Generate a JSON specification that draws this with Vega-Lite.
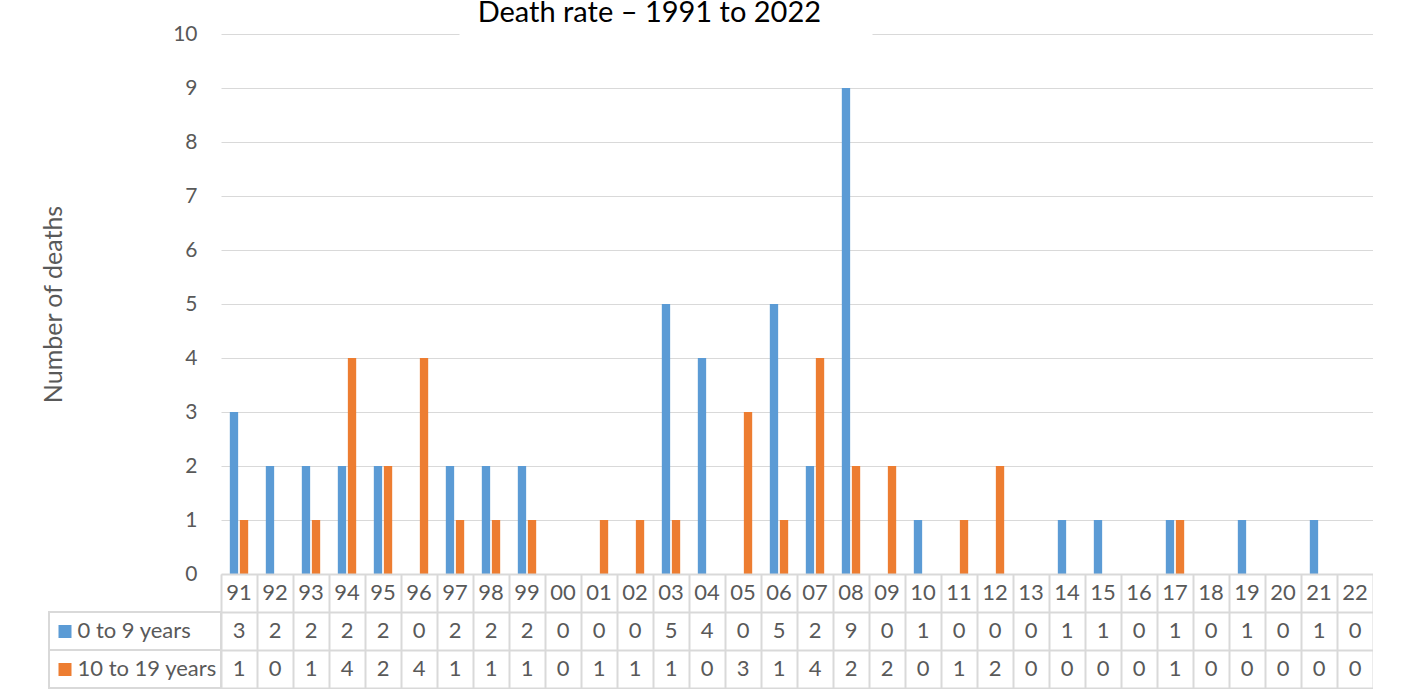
{
  "$schema": "https://vega.github.io/schema/vega-lite/v6.json",
  "padding": {"left": 41, "top": -1, "right": 0, "bottom": 0},
  "background": "white",
  "title": {"text": "Death rate – 1991 to 2022", "fontSize": 29, "fontWeight": "normal", "color": "#000000", "anchor": "start", "dx": 436, "offset": -5},
  "datasets": {
    "deaths": [
      {"year": "91", "series": "0 to 9 years", "deaths": 3},
      {"year": "92", "series": "0 to 9 years", "deaths": 2},
      {"year": "93", "series": "0 to 9 years", "deaths": 2},
      {"year": "94", "series": "0 to 9 years", "deaths": 2},
      {"year": "95", "series": "0 to 9 years", "deaths": 2},
      {"year": "96", "series": "0 to 9 years", "deaths": 0},
      {"year": "97", "series": "0 to 9 years", "deaths": 2},
      {"year": "98", "series": "0 to 9 years", "deaths": 2},
      {"year": "99", "series": "0 to 9 years", "deaths": 2},
      {"year": "00", "series": "0 to 9 years", "deaths": 0},
      {"year": "01", "series": "0 to 9 years", "deaths": 0},
      {"year": "02", "series": "0 to 9 years", "deaths": 0},
      {"year": "03", "series": "0 to 9 years", "deaths": 5},
      {"year": "04", "series": "0 to 9 years", "deaths": 4},
      {"year": "05", "series": "0 to 9 years", "deaths": 0},
      {"year": "06", "series": "0 to 9 years", "deaths": 5},
      {"year": "07", "series": "0 to 9 years", "deaths": 2},
      {"year": "08", "series": "0 to 9 years", "deaths": 9},
      {"year": "09", "series": "0 to 9 years", "deaths": 0},
      {"year": "10", "series": "0 to 9 years", "deaths": 1},
      {"year": "11", "series": "0 to 9 years", "deaths": 0},
      {"year": "12", "series": "0 to 9 years", "deaths": 0},
      {"year": "13", "series": "0 to 9 years", "deaths": 0},
      {"year": "14", "series": "0 to 9 years", "deaths": 1},
      {"year": "15", "series": "0 to 9 years", "deaths": 1},
      {"year": "16", "series": "0 to 9 years", "deaths": 0},
      {"year": "17", "series": "0 to 9 years", "deaths": 1},
      {"year": "18", "series": "0 to 9 years", "deaths": 0},
      {"year": "19", "series": "0 to 9 years", "deaths": 1},
      {"year": "20", "series": "0 to 9 years", "deaths": 0},
      {"year": "21", "series": "0 to 9 years", "deaths": 1},
      {"year": "22", "series": "0 to 9 years", "deaths": 0},
      {"year": "91", "series": "10 to 19 years", "deaths": 1},
      {"year": "92", "series": "10 to 19 years", "deaths": 0},
      {"year": "93", "series": "10 to 19 years", "deaths": 1},
      {"year": "94", "series": "10 to 19 years", "deaths": 4},
      {"year": "95", "series": "10 to 19 years", "deaths": 2},
      {"year": "96", "series": "10 to 19 years", "deaths": 4},
      {"year": "97", "series": "10 to 19 years", "deaths": 1},
      {"year": "98", "series": "10 to 19 years", "deaths": 1},
      {"year": "99", "series": "10 to 19 years", "deaths": 1},
      {"year": "00", "series": "10 to 19 years", "deaths": 0},
      {"year": "01", "series": "10 to 19 years", "deaths": 1},
      {"year": "02", "series": "10 to 19 years", "deaths": 1},
      {"year": "03", "series": "10 to 19 years", "deaths": 1},
      {"year": "04", "series": "10 to 19 years", "deaths": 0},
      {"year": "05", "series": "10 to 19 years", "deaths": 3},
      {"year": "06", "series": "10 to 19 years", "deaths": 1},
      {"year": "07", "series": "10 to 19 years", "deaths": 4},
      {"year": "08", "series": "10 to 19 years", "deaths": 2},
      {"year": "09", "series": "10 to 19 years", "deaths": 2},
      {"year": "10", "series": "10 to 19 years", "deaths": 0},
      {"year": "11", "series": "10 to 19 years", "deaths": 1},
      {"year": "12", "series": "10 to 19 years", "deaths": 2},
      {"year": "13", "series": "10 to 19 years", "deaths": 0},
      {"year": "14", "series": "10 to 19 years", "deaths": 0},
      {"year": "15", "series": "10 to 19 years", "deaths": 0},
      {"year": "16", "series": "10 to 19 years", "deaths": 0},
      {"year": "17", "series": "10 to 19 years", "deaths": 1},
      {"year": "18", "series": "10 to 19 years", "deaths": 0},
      {"year": "19", "series": "10 to 19 years", "deaths": 0},
      {"year": "20", "series": "10 to 19 years", "deaths": 0},
      {"year": "21", "series": "10 to 19 years", "deaths": 0},
      {"year": "22", "series": "10 to 19 years", "deaths": 0}
    ],
    "series": [
      {"series": "0 to 9 years"},
      {"series": "10 to 19 years"}
    ]
  },
  "spacing": 0,
  "bounds": "flush",
  "columns": 2,
  "concat": [
    {
      "width": 172,
      "height": 540,
      "data": {"values": []},
      "mark": "rule",
      "encoding": {}
    },
    {
      "width": 1152,
      "height": 540,
      "data": {"name": "deaths"},
      "mark": {"type": "bar"},
      "encoding": {
        "x": {"field": "year", "type": "nominal", "scale": {"domain": ["91","92","93","94","95","96","97","98","99","00","01","02","03","04","05","06","07","08","09","10","11","12","13","14","15","16","17","18","19","20","21","22"], "paddingInner": 0.49, "paddingOuter": 0.245}, "axis": null},
        "xOffset": {"field": "series", "type": "nominal", "scale": {"domain": ["0 to 9 years", "10 to 19 years"], "paddingInner": 0.17, "paddingOuter": 0}},
        "y": {"field": "deaths", "type": "quantitative", "scale": {"domain": [0, 10]},
          "axis": {"values": [0,1,2,3,4,5,6,7,8,9,10], "grid": true, "gridColor": "#d9d9d9", "gridWidth": 1, "gridDash": {"expr": "datum.value == 10 ? [238, 413, 600, 0] : []"}, "domain": false, "ticks": false, "labelPadding": 24, "labelFontSize": 21, "labelColor": "#595959", "title": "Number of deaths", "titleFontSize": 25, "titleFontWeight": "normal", "titleColor": "#595959", "titlePadding": 106}},
        "color": {"field": "series", "type": "nominal", "scale": {"domain": ["0 to 9 years", "10 to 19 years"], "range": ["#5b9bd5", "#ed7d31"]}, "legend": null}
      }
    },
    {
      "width": 172,
      "height": 114,
      "data": {"name": "series"},
      "mark": {"type": "rect", "filled": false, "stroke": "#d9d9d9", "strokeWidth": 2},
      "encoding": {
        "y": {"field": "series", "type": "nominal", "scale": {"domain": ["Year", "0 to 9 years", "10 to 19 years"], "paddingInner": 0, "paddingOuter": 0},
          "axis": {"orient": "left", "offset": -22, "domain": false, "ticks": true, "tickSize": 13, "tickWidth": 13, "tickColor": {"expr": "datum.value == '0 to 9 years' ? '#5b9bd5' : datum.value == '10 to 19 years' ? '#ed7d31' : 'transparent'"}, "labelAlign": "left", "labelPadding": -19, "labelFontSize": 22, "labelColor": "#595959", "labelExpr": "datum.value == 'Year' ? '' : datum.label", "title": null, "grid": false}}
      }
    },
    {
      "width": 1152,
      "height": 114,
      "data": {"name": "deaths"},
      "encoding": {
        "x": {"field": "year", "type": "nominal", "scale": {"domain": ["91","92","93","94","95","96","97","98","99","00","01","02","03","04","05","06","07","08","09","10","11","12","13","14","15","16","17","18","19","20","21","22"], "paddingInner": 0, "paddingOuter": 0},
          "axis": {"grid": true, "tickBand": "extent", "labels": false, "ticks": false, "domain": false, "title": null, "gridColor": "#d9d9d9", "gridWidth": 2}}
      },
      "layer": [
        {
          "mark": {"type": "text", "fontSize": 22, "color": "#595959"},
          "encoding": {
            "y": {"field": "series", "type": "nominal", "scale": {"domain": ["Year", "0 to 9 years", "10 to 19 years"], "paddingInner": 0, "paddingOuter": 0},
              "axis": {"grid": true, "tickBand": "extent", "labels": false, "ticks": false, "domain": false, "title": null, "gridColor": "#d9d9d9", "gridWidth": 2}},
            "text": {"field": "deaths", "type": "quantitative"}
          }
        },
        {
          "transform": [{"filter": "datum.series == '0 to 9 years'"}],
          "mark": {"type": "text", "fontSize": 22, "color": "#595959"},
          "encoding": {
            "y": {"datum": "Year", "type": "nominal"},
            "text": {"field": "year", "type": "nominal"}
          }
        }
      ]
    }
  ],
  "config": {"view": {"stroke": null}, "font": "Lato"}
}
